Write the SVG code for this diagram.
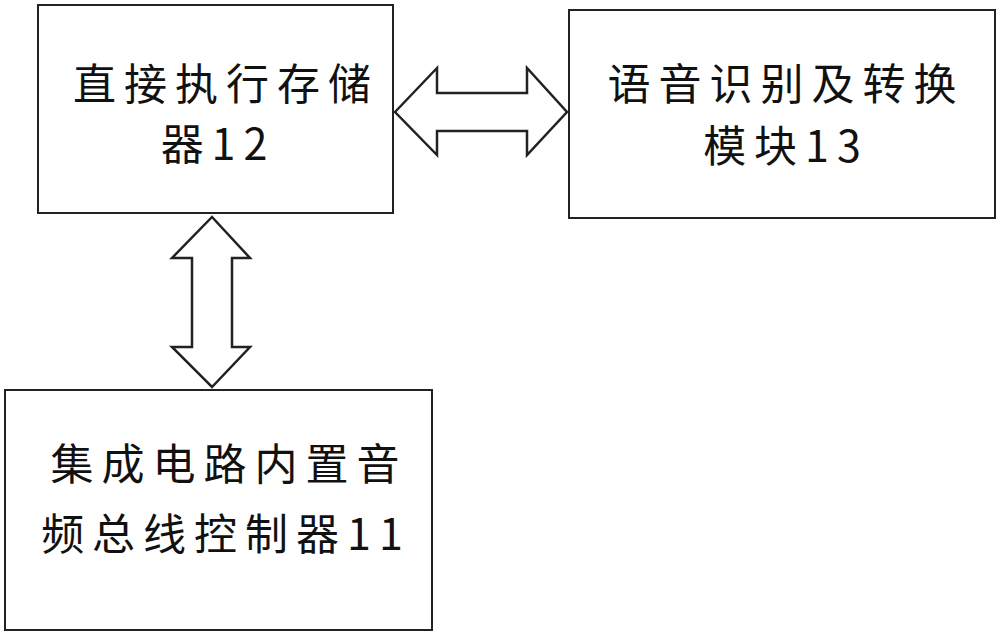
<svg xmlns="http://www.w3.org/2000/svg" width="1000" height="638" viewBox="0 0 1000 638">
<style>
.box{fill:#fff;stroke:#222;stroke-width:2}
.arr{fill:#fff;stroke:#222;stroke-width:2.5;stroke-linejoin:miter}
text{font-family:"Noto Sans CJK SC","Noto Sans",sans-serif;font-size:43px;fill:#111;text-anchor:middle;letter-spacing:8px}
</style>
<rect width="1000" height="638" fill="#fff"/>
<g id="node12"><rect class="box" x="38" y="5" width="355" height="208"/>
<text x="226" y="100">直接执行存储</text><text x="218" y="160">器12</text></g>
<g id="node13"><rect class="box" x="569" y="10" width="426" height="208"/>
<text x="786" y="100">语音识别及转换</text><text x="786" y="162">模块13</text></g>
<g id="node11"><rect class="box" x="5" y="390" width="427" height="240"/>
<text x="229" y="480">集成电路内置音</text><text x="226" y="550">频总线控制器11</text></g>
<g id="connectors">
<path class="arr" d="M395,112 L437,68 L437,93 L527,93 L527,68 L567,112 L527,155 L527,131 L437,131 L437,155 Z"/>
<path class="arr" d="M212,217 L250,258 L232,258 L232,347 L250,347 L212,387 L172,347 L192,347 L192,258 L172,258 Z"/>
</g>
</svg>
